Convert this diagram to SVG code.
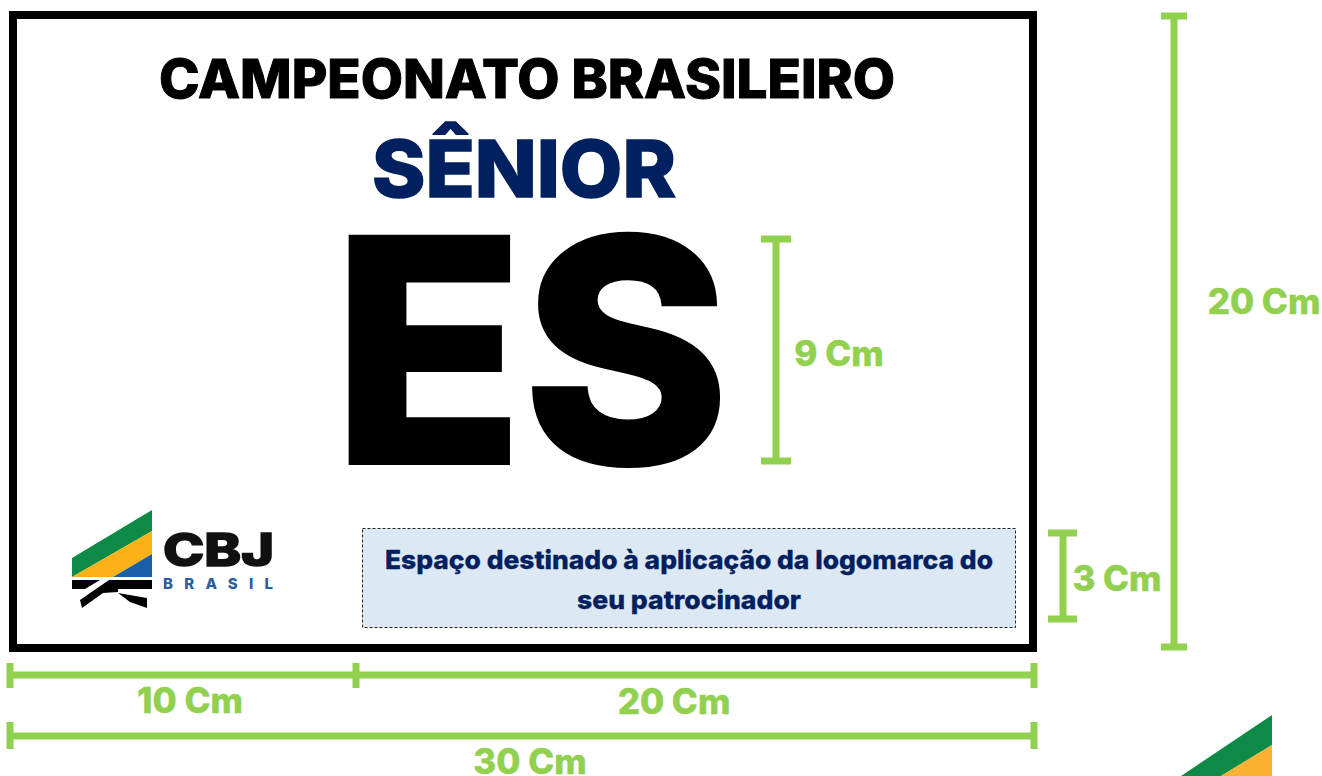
<svg xmlns="http://www.w3.org/2000/svg" width="1322" height="776" viewBox="0 0 1322 776">
<style>
text{font-family:Inter,"Liberation Sans",sans-serif;font-weight:800;text-anchor:middle}
.dim{fill:#92d050;font-size:35px;stroke:#92d050;stroke-width:.4}
.dl{stroke:#92d050;stroke-width:7;fill:none}
.note{fill:#002060;font-size:26px;stroke:#002060;stroke-width:.3}
</style>
<rect width="1322" height="776" fill="#fff"/>
<g id="sign">
<rect x="13" y="15" width="1020" height="633" fill="#fff" stroke="#000" stroke-width="8"/>
<text x="527" y="98" font-size="54" stroke="#000" stroke-width="1" textLength="736" lengthAdjust="spacingAndGlyphs">CAMPEONATO BRASILEIRO</text>
<text x="524" y="197" font-size="79" fill="#002060" stroke="#002060" stroke-width="1.500" textLength="304" lengthAdjust="spacingAndGlyphs">SÊNIOR</text>
<text x="531" y="463" font-size="311" stroke="#000" stroke-width="4" textLength="396" lengthAdjust="spacingAndGlyphs">ES</text>
</g>
<g id="logo">
<polygon points="72,558 152,510 152,531 72,577" fill="#0d8a45"/>
<polygon points="72,577 152,531 152,554 113,577" fill="#fbb216"/>
<polygon points="113,577 152,554 152,577" fill="#1a5ea8"/>
<polygon points="72,580 100,580 85,589 72,589" fill="#000"/>
<polygon points="109,580 152,580 152,589 118,589 118,592 103,593 82,608 80,600" fill="#000"/>
<polygon points="118,593 147,598 147,608 130,602" fill="#000"/>
<text x="218.500" y="565.500" font-size="45" fill="#111" stroke="#111" stroke-width="1.500" textLength="111" lengthAdjust="spacingAndGlyphs">CBJ</text>
<text x="218" y="589" font-size="15" fill="#2a5f9e" textLength="110" lengthAdjust="spacing">BRASIL</text>
</g>
<g id="sponsor">
<rect x="362.500" y="528.500" width="653" height="99" fill="#dde8f5" stroke="#222" stroke-width="1" stroke-dasharray="3 2"/>
<text class="note" x="689" y="569" textLength="608" lengthAdjust="spacingAndGlyphs">Espaço destinado à aplicação da logomarca do</text>
<text class="note" x="689" y="609" textLength="224" lengthAdjust="spacingAndGlyphs">seu patrocinador</text>
</g>
<g id="connectors">
<path class="dl" d="M1174 16V647M1161 16H1187M1161 647H1187"/>
<path class="dl" d="M776 239V461M761 239H791M761 461H791"/>
<path class="dl" d="M1063 533V619M1048 533H1077M1048 619H1077"/>
<path class="dl" d="M10 675H1034M10 663V688M356 663V688M1034 663V688"/>
<path class="dl" d="M10 736H1034M10 722V749M1034 722V749"/>
</g>
<g id="labels">
<text class="dim" x="1264" y="314">20 Cm</text>
<text class="dim" x="839" y="366">9 Cm</text>
<text class="dim" x="1117" y="591">3 Cm</text>
<text class="dim" x="190" y="713">10 Cm</text>
<text class="dim" x="674" y="714">20 Cm</text>
<text class="dim" x="530" y="774">30 Cm</text>
</g>
<g id="logo-fragment">
<polygon points="1181,776 1272,715 1272,745 1221,776" fill="#0d8a45"/>
<polygon points="1221,776 1272,745 1272,776" fill="#fbb233"/>
</g>
</svg>
